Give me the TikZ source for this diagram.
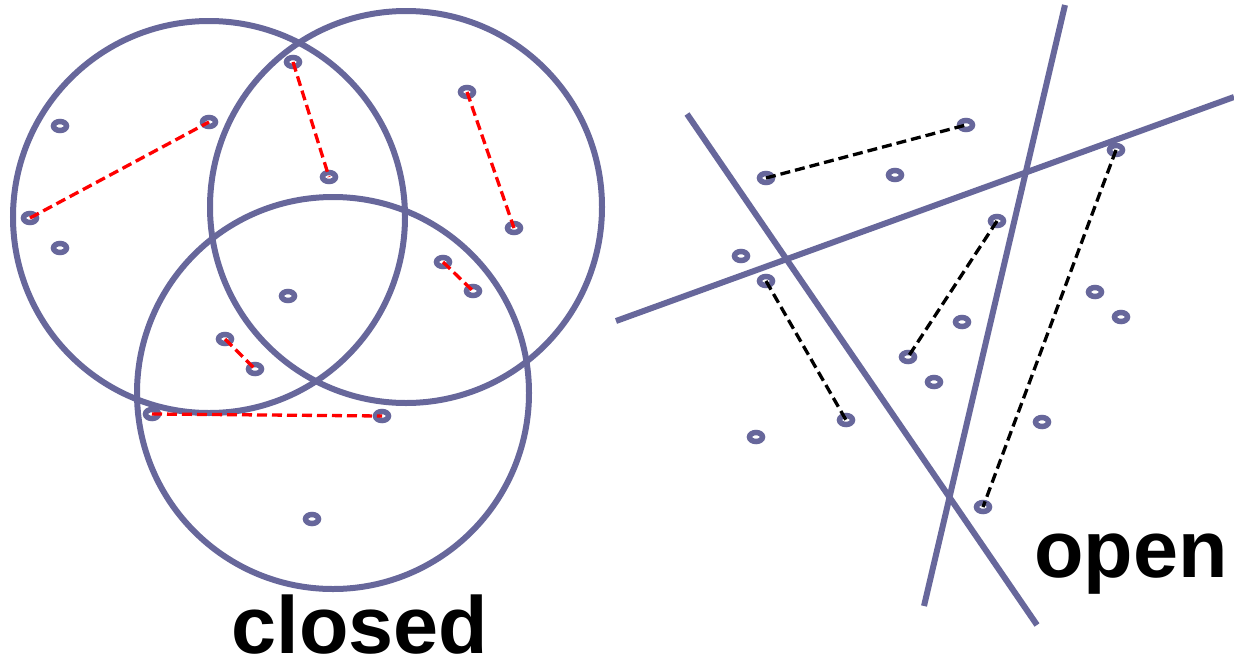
\documentclass[tikz,border=0pt]{standalone}
\usepackage{fontspec}
\setmainfont{Liberation Sans}
\definecolor{slate}{HTML}{67679B}
\tikzset{
  ptring/.style={draw=slate, fill=white, line width=5.5pt},
  shape line/.style={draw=slate, line width=6pt},
  reddash/.style={draw=red, line width=3.3pt, dash pattern=on 10pt off 5pt},
  blackdash/.style={draw=black, line width=3.3pt, dash pattern=on 10pt off 5pt},
  biglabel/.style={font=\fontsize{81}{81}\selectfont\bfseries, inner sep=0pt}
}
\begin{document}
\begin{tikzpicture}[x=1pt, y=-1pt]
\useasboundingbox (0,0) rectangle (1234,662);
% circles
\draw[shape line] (209,217) circle (196);
\draw[shape line] (406,207) circle (196);
\draw[shape line] (333,393) circle (196);
% lines
\coordinate (la1) at (687,114); \coordinate (la2) at (1037,625);
\coordinate (lb1) at (1065,5);  \coordinate (lb2) at (924,606);
\coordinate (lc1) at (616,321); \coordinate (lc2) at (1234,97);
\draw[shape line] (la1) -- (la2);
\draw[shape line] (lb1) -- (lb2);
\draw[shape line] (lc1) -- (lc2);
% left points
\coordinate (p1) at (60,126);
\coordinate (p2) at (209,122);
\coordinate (p3) at (30,218);
\coordinate (p4) at (60,248);
\coordinate (p5) at (293,62);
\coordinate (p6) at (329,177);
\coordinate (p7) at (467,92);
\coordinate (p8) at (514,228);
\coordinate (p9) at (443,262);
\coordinate (p10) at (473,291);
\coordinate (p11) at (288,296);
\coordinate (p12) at (225,339);
\coordinate (p13) at (255,369);
\coordinate (p14) at (152,414);
\coordinate (p15) at (382,416);
\coordinate (p16) at (312,519);
% right points
\coordinate (q1) at (766,178);
\coordinate (q2) at (966,125);
\coordinate (q3) at (895,175);
\coordinate (q4) at (997,221);
\coordinate (q5) at (1116,150);
\coordinate (q6) at (741,256);
\coordinate (q7) at (766,281);
\coordinate (q8) at (846,420);
\coordinate (q9) at (962,322);
\coordinate (q10) at (908,357);
\coordinate (q11) at (934,382);
\coordinate (q12) at (756,437);
\coordinate (q13) at (1095,292);
\coordinate (q14) at (1121,317);
\coordinate (q15) at (1042,422);
\coordinate (q16) at (983,507);
\foreach \n in {p1,p2,p3,p4,p5,p6,p7,p8,p9,p10,p11,p12,p13,p14,p15,p16,
                q1,q2,q3,q4,q5,q6,q7,q8,q9,q10,q11,q12,q13,q14,q15,q16}
  \draw[ptring] (\n) ellipse [x radius=6.5, y radius=4.5];
% red dashed pairs
\draw[reddash] (p3) -- (p2);
\draw[reddash] (p5) -- (p6);
\draw[reddash] (p7) -- (p8);
\draw[reddash] (p9) -- (p10);
\draw[reddash] (p12) -- (p13);
\draw[reddash] (p14) -- (p15);
% black dashed pairs
\draw[blackdash] (q1) -- (q2);
\draw[blackdash] (q4) -- (q10);
\draw[blackdash] (q7) -- (q8);
\draw[blackdash] (q5) -- (q16);
% labels
\node[biglabel, anchor=base] (closed) at (360,653) {closed};
\node[biglabel, anchor=base] (open) at (1131,577) {open};
\end{tikzpicture}
\end{document}
